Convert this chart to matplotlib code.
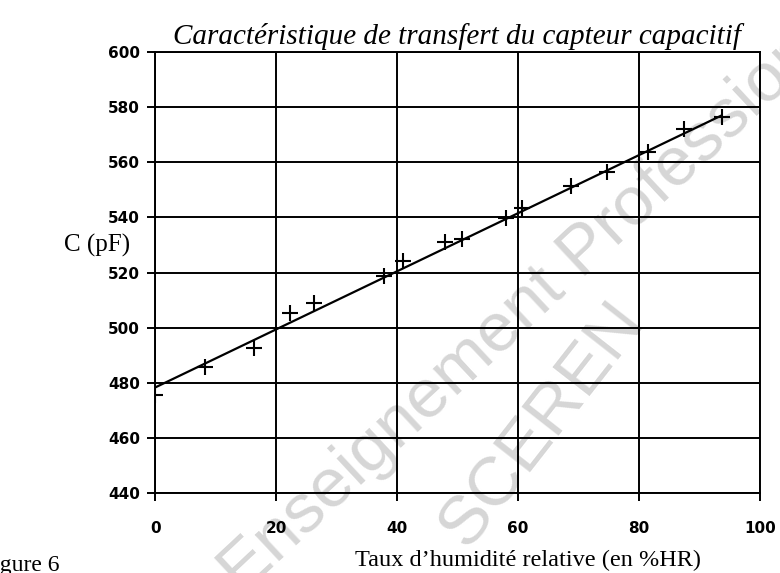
import matplotlib.pyplot as plt
import numpy as np

# humidity (%HR) and capacitance (pF)
hr = [0, 8.2, 16.3, 22.3, 26.2, 37.9, 41.0, 47.9, 50.8, 58.0, 60.6, 68.7, 74.7, 81.5, 87.4, 93.7]
cap = [475.6, 485.7, 492.6, 505.4, 509.0, 518.7, 524.0, 531.2, 532.2, 539.7, 543.5, 551.5, 556.6, 563.8, 572.0, 576.5]

# fitted line endpoints
fit_x = [0, 93.7]
fit_y = [478.3, 577.0]

xticks = [0, 20, 40, 60, 80, 100]
yticks = [440, 460, 480, 500, 520, 540, 560, 580, 600]

fig = plt.figure(figsize=(7.8, 5.73), dpi=100)
ax = fig.add_axes([0.199, 0.1396, 0.775, 0.7696])
ax.set_facecolor("none")

ax.plot(fit_x, fit_y, color="black", linewidth=1.6, zorder=3)
ax.plot(hr, cap, linestyle="none", marker="+", markersize=11,
        markeredgewidth=1.5, color="black", zorder=4)

ax.set_xlim(0, 100)
ax.set_ylim(440, 600)
ax.set_xticks(xticks)
ax.set_yticks(yticks)
ax.grid(True, color="black", linewidth=1.4)
for s in ax.spines.values():
    s.set_linewidth(1.4)
ax.tick_params(axis="both", direction="out", length=6, width=1.4, color="black")
ax.tick_params(axis="x", pad=14)
ax.tick_params(axis="y", pad=5)
for lab in ax.get_xticklabels() + ax.get_yticklabels():
    lab.set_fontweight("bold")
    lab.set_fontsize(11)
    lab.set_family("DejaVu Sans")

ax.set_title("Caractéristique de transfert du capteur capacitif",
             family="Liberation Serif", style="italic", fontsize=21, pad=6)

fig.text(97 / 780, 1 - 245 / 573, "C (pF)", family="Liberation Serif",
         fontsize=18, ha="center", va="center")
fig.text(528 / 780, 1 - 560 / 573, "Taux d\u2019humidité relative (en %HR)",
         family="Liberation Serif", fontsize=17.5, ha="center", va="center")
fig.text(60 / 780, 1 - 565 / 573, "Figure 6", family="Liberation Serif",
         fontsize=17, ha="right", va="center")

# watermark, drawn beneath the chart marks
fig.text(0.71, 0.51, "Enseignement Professionnel", family="Liberation Sans",
         fontsize=50, rotation=43, color="#d6d6d6", ha="center", va="center", zorder=-1)
fig.text(0.695, 0.26, "SCEREN", family="Liberation Sans",
         fontsize=50, rotation=52, color="#d6d6d6", ha="center", va="center", zorder=-1)

fig.savefig("out.png", dpi=100)
